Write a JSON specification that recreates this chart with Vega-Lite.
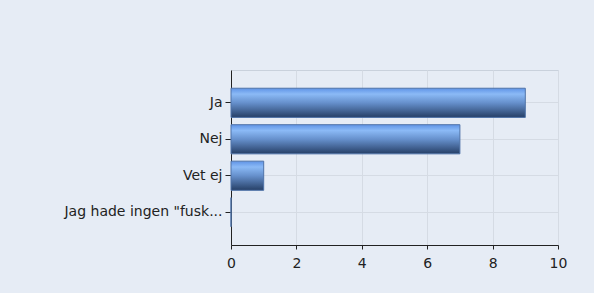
{
  "$schema": "https://vega.github.io/schema/vega-lite/v6.json",
  "autosize": {"type": "none"},
  "width": 327,
  "height": 175,
  "padding": {"left": 231, "top": 70, "right": 36, "bottom": 48},
  "background": "#e6ecf5",
  "config": {
    "view": {"stroke": "#c9d1dc", "strokeWidth": 1},
    "font": "DejaVu Sans",
    "axis": {"labelFont": "DejaVu Sans", "labelFontSize": 14, "labelColor": "#222222", "gridColor": "#d5dbe4", "domainColor": "#222222", "tickColor": "#222222"}
  },
  "data": {
    "values": [
      {"answer": "Ja", "count": 9},
      {"answer": "Nej", "count": 7},
      {"answer": "Vet ej", "count": 1},
      {"answer": "Jag hade ingen \"fusk...", "count": 0}
    ]
  },
  "mark": {
    "type": "bar",
    "stroke": "#4f73a8",
    "strokeWidth": 1,
    "color": {
      "gradient": "linear",
      "x1": 0, "y1": 0, "x2": 0, "y2": 1,
      "stops": [
        {"offset": 0, "color": "#5f93e6"},
        {"offset": 0.2, "color": "#8bbaf6"},
        {"offset": 0.5, "color": "#6690cc"},
        {"offset": 1, "color": "#263f66"}
      ]
    }
  },
  "encoding": {
    "y": {
      "field": "answer",
      "type": "nominal",
      "sort": null,
      "title": null,
      "scale": {"paddingInner": 0.2, "paddingOuter": 0.5},
      "axis": {"tickSize": 6, "labelPadding": 3, "grid": true, "bandPosition": 0.5, "labelLimit": 225}
    },
    "x": {
      "field": "count",
      "type": "quantitative",
      "title": null,
      "scale": {"domain": [0, 10]},
      "axis": {"values": [0, 2, 4, 6, 8, 10], "tickSize": 4, "labelPadding": 7, "labelFlush": false, "labelBound": false, "grid": true}
    }
  }
}
